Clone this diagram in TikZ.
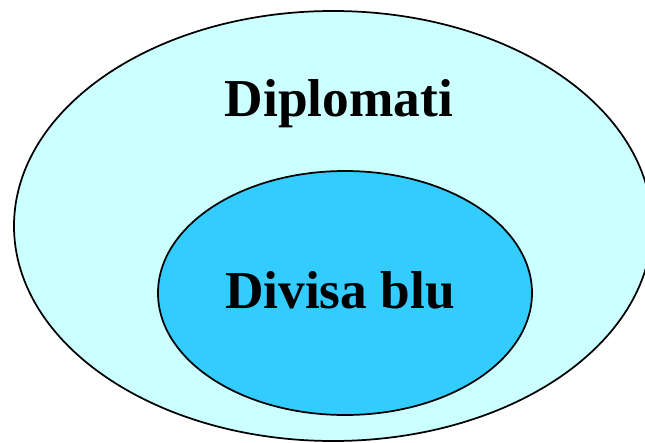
\documentclass[tikz,border=0pt]{standalone}
\usepackage{fontspec}
\setmainfont{Liberation Serif}
\definecolor{outerfill}{HTML}{CCFFFF}
\definecolor{innerfill}{HTML}{33CCFF}
\begin{document}
\begin{tikzpicture}[x=0.75pt,y=-0.75pt,
  blob/.style={draw=black,line width=1.3pt},
  lbl/.style={font=\bfseries\fontsize{40}{44}\selectfont,anchor=base,inner sep=0pt}]
\useasboundingbox (0,0) rectangle (645,442);
\begin{scope}
\clip (0,0) rectangle (645,442);
\draw[blob,fill=outerfill] (333,226) ellipse [x radius=319, y radius=215];
\end{scope}
\draw[blob,fill=innerfill] (345,293) ellipse [x radius=187, y radius=122];
\node[lbl] (dip) at (339,117) {Diplomati};
\node[lbl] (div) at (340,308) {Divisa blu};
\end{tikzpicture}
\end{document}
